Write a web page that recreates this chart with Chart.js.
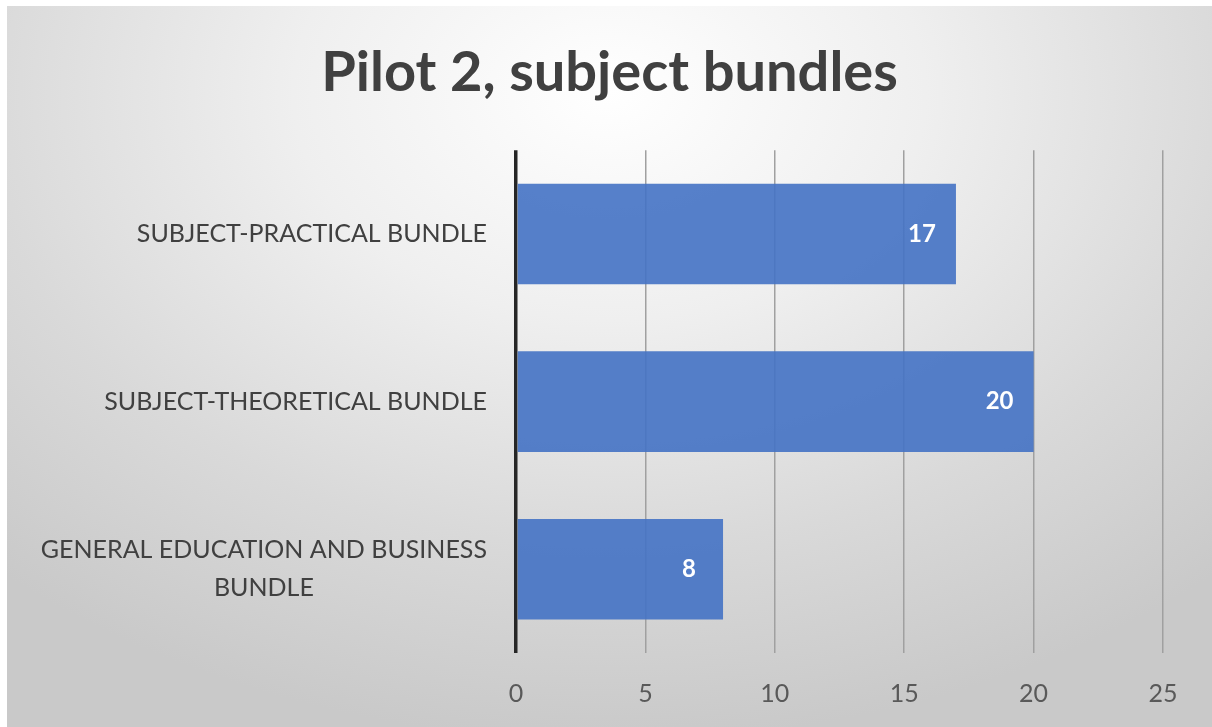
<!DOCTYPE html>
<html>
<head>
<meta charset="utf-8">
<script src="https://cdn.jsdelivr.net/npm/chart.js@4"></script>
<style>
  html, body { margin: 0; padding: 0; background: #ffffff; }
  #wrap {
    position: absolute; left: 7px; top: 6px; width: 1205px; height: 721px;
    background: radial-gradient(ellipse 75% 90% at 50% 12%, #ffffff 0%, #efefef 35%, #d9d9d9 70%, #c9c9c9 100%);
  }
</style>
</head>
<body>
<div id="wrap"><canvas id="chart" width="1205" height="721"></canvas></div>
<script>
// categories, top to bottom as drawn
const bundleLabels = [
  ["SUBJECT-PRACTICAL BUNDLE"],
  ["SUBJECT-THEORETICAL BUNDLE"],
  ["GENERAL EDUCATION AND BUSINESS", "BUNDLE"]
];
const bundleCounts = [17, 20, 8];
const xTicks = [0, 5, 10, 15, 20, 25];

const FONT = "Lato, 'Open Sans', sans-serif";

// draws the category names the way the original does (block right aligned, lines centred)
const categoryLabels = {
  id: "categoryLabels",
  afterDraw(chart) {
    const ctx = chart.ctx;
    const yScale = chart.scales.y;
    const right = chart.chartArea.left - 29;
    ctx.save();
    ctx.font = "25px " + FONT;
    ctx.fillStyle = "#404040";
    ctx.textBaseline = "middle";
    ctx.textAlign = "center";
    bundleLabels.forEach((lines, i) => {
      const y = yScale.getPixelForValue(i);
      const widest = Math.max(...lines.map(l => ctx.measureText(l).width));
      const cx = right - widest / 2;
      const lh = 38;
      const top = y - (lines.length - 1) * lh / 2;
      lines.forEach((l, j) => ctx.fillText(l, cx, top + j * lh));
    });
    ctx.restore();
  }
};

// value labels inside the end of each bar
const valueLabels = {
  id: "valueLabels",
  afterDatasetsDraw(chart) {
    const ctx = chart.ctx;
    const meta = chart.getDatasetMeta(0);
    ctx.save();
    ctx.font = "bold 24px " + FONT;
    ctx.fillStyle = "#ffffff";
    ctx.textAlign = "center";
    ctx.textBaseline = "middle";
    meta.data.forEach((bar, i) => {
      ctx.fillText(String(bundleCounts[i]), bar.x - 34, bar.y);
    });
    ctx.restore();
  }
};

const chartElement = document.getElementById("chart");

new Chart(chartElement, {
  type: "bar",
  data: {
    labels: bundleLabels.map(l => l.join(" ")),
    datasets: [
      {
        data: bundleCounts,
        backgroundColor: "rgba(68, 114, 196, 0.9)",
        borderWidth: 0,
        barPercentage: 0.6,
        categoryPercentage: 1.0,
      },
    ],
  },
  options: {
    indexAxis: "y",
    responsive: false,
    animation: false,
    layout: { padding: { left: 49, right: 49, top: 0, bottom: 0 } },
    plugins: {
      legend: { display: false },
      tooltip: { enabled: false },
      title: {
        display: true,
        text: "Pilot 2, subject bundles",
        color: "#404040",
        font: { family: FONT, size: 56, weight: "bold", lineHeight: 1.2 },
        padding: { top: 33, bottom: 44 },
      },
    },
    scales: {
      x: {
        min: 0,
        max: 25,
        afterBuildTicks: (scale) => {
          scale.ticks = xTicks.map(v => ({ value: v }));
        },
        grid: {
          drawTicks: false,
          color: (c) => (c.tick && c.tick.value === 0 ? "#262626" : "#a0a0a0"),
          lineWidth: (c) => (c.tick && c.tick.value === 0 ? 3.5 : 1.5),
        },
        border: { display: false },
        ticks: {
          color: "#595959",
          padding: 26,
          font: { family: FONT, size: 25 },
        },
        afterFit: (scale) => {
          scale.height = 74;
        },
      },
      y: {
        grid: { display: false },
        border: { display: false },
        ticks: { display: false },
        afterFit: (scale) => {
          scale.width = 460;
        },
      },
    },
  },
  plugins: [categoryLabels, valueLabels],
});
</script>
</body>
</html>
